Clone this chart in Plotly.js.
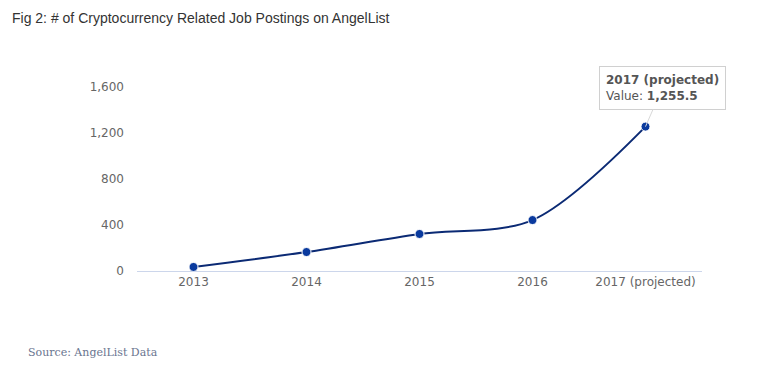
<!DOCTYPE html>
<html>
<head>
<meta charset="utf-8">
<script src="https://cdn.plot.ly/plotly-3.0.1.min.js"></script>
<style>
html,body{margin:0;padding:0;background:#fff;}
#chart{width:782px;height:370px;}
</style>
</head>
<body>
<div id="chart"></div>
<script>
const years = ["2013", "2014", "2015", "2016", "2017 (projected)"];
const postings = [35, 165, 322, 443, 1255.5];
const yTicks = [0, 400, 800, 1200, 1600];
const yTickLabels = ["0", "400", "800", "1,200", "1,600"];

const trace = {
  x: years,
  y: postings,
  type: "scatter",
  mode: "lines+markers",
  line: {shape: "spline", smoothing: 0.9, color: "#0b2a74", width: 2},
  marker: {size: 9, color: "#0a3a9e", line: {color: "#ffffff", width: 1}},
  hoverinfo: "none",
  cliponaxis: false
};

const last = years.length - 1;
const layout = {
  width: 782, height: 370,
  paper_bgcolor: "#ffffff", plot_bgcolor: "#ffffff",
  margin: {l: 137, r: 80, t: 87, b: 99},
  showlegend: false,
  font: {family: "Liberation Sans, Arial, sans-serif", color: "#666666", size: 12},
  title: {
    text: "Fig 2: # of Cryptocurrency Related Job Postings on AngelList",
    x: 12/782, xref: "container", xanchor: "left",
    y: 1 - 18/370, yref: "container", yanchor: "middle",
    font: {family: "Liberation Sans, Arial, sans-serif", size: 14, color: "#333333"}
  },
  xaxis: {
    type: "category",
    range: [-0.5, years.length - 0.5],
    showgrid: false, zeroline: false,
    showline: true, linecolor: "#ccd6eb", linewidth: 1,
    ticks: "", ticklen: 0,
    tickfont: {size: 12, color: "#666666", family: "DejaVu Sans, sans-serif"},
    fixedrange: true
  },
  yaxis: {
    range: [0, 1600],
    tickvals: yTicks, ticktext: yTickLabels,
    showgrid: false, zeroline: false, showline: false,
    ticks: "", ticklabelstandoff: 12,
    tickfont: {size: 12, color: "#666666", family: "DejaVu Sans, sans-serif"},
    fixedrange: true
  },
  annotations: [
    {
      x: years[last], y: postings[last], xref: "x", yref: "y",
      text: "<b>" + years[last] + "</b><br>Value: <b>1,255.5</b>",
      showarrow: true, arrowhead: 0, arrowwidth: 1, arrowcolor: "#d8d8d8",
      ax: 17, ay: -39,
      align: "left",
      bgcolor: "rgba(255,255,255,0.97)", bordercolor: "#d0d0d0", borderwidth: 1, borderpad: 6,
      font: {family: "DejaVu Sans, sans-serif", size: 12, color: "#555555"}
    },
    {
      text: "Source: AngelList Data",
      xref: "paper", yref: "paper", x: -111/565, y: -81/184,
      xanchor: "left", yanchor: "middle", showarrow: false,
      font: {family: "DejaVu Serif, Liberation Serif, serif", size: 11, color: "#6a7590"}
    }
  ]
};

Plotly.newPlot("chart", [trace], layout, {displayModeBar: false, staticPlot: true});
</script>
</body>
</html>
